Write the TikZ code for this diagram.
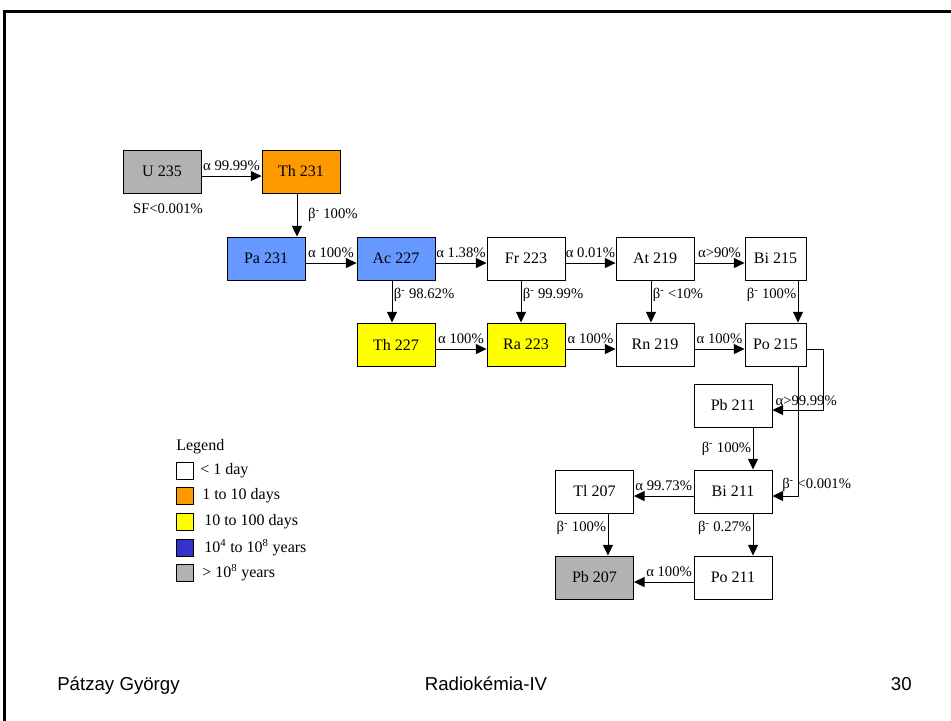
\documentclass[tikz,border=0pt]{standalone}
\usepackage{fontspec}
\setmainfont{Liberation Serif}
\newfontfamily\footfont{Liberation Sans}
\usepackage{tikz}
\usetikzlibrary{arrows.meta}
\definecolor{hlGray}{HTML}{B2B2B2}
\definecolor{hlOrange}{HTML}{FF9900}
\definecolor{hlYellow}{HTML}{FFFF00}
\definecolor{hlBlue}{HTML}{6699FF}
\definecolor{hlDeep}{HTML}{3333CC}
\newcommand{\bmin}{β\textsuperscript{-}}

\begin{document}
\begin{tikzpicture}[x=0.75pt, y=-0.75pt,
    nuc/.style={draw, line width=0.7pt, minimum width=58.5pt, minimum height=32.25pt,
      inner sep=0pt, font=\fontsize{12}{14}\selectfont},
    nucs/.style={nuc, minimum width=45.75pt},
    decay/.style={line width=0.7pt, -{Triangle[length=8pt,width=7.5pt]}},
    lab/.style={font=\fontsize{11}{13}\selectfont, inner sep=1pt},
    key/.style={draw, line width=0.7pt, minimum size=12.75pt, inner sep=0pt},
    keytxt/.style={anchor=west, inner sep=0pt, font=\fontsize{12}{14}\selectfont},
    foot/.style={font=\footfont\fontsize{14}{16}\selectfont, inner sep=0pt}]
    \useasboundingbox (0,0) rectangle (951,721);
    % slide frame
    \draw[line width=2.25pt] (951,11) -- (4,11) -- (4,721);
    % nuclides
    \node[nuc, fill=hlGray]   (U235)  at (162,171.5) {U 235};
    \node[nuc, fill=hlOrange] (Th231) at (301,171.5) {Th 231};
    \node[nuc, fill=hlBlue]   (Pa231) at (266,258.5) {Pa 231};
    \node[nuc, fill=hlBlue]   (Ac227) at (396,258.5) {Ac 227};
    \node[nuc]                (Fr223) at (526,258.5) {Fr 223};
    \node[nuc]                (At219) at (655,258.5) {At 219};
    \node[nucs]               (Bi215) at (775.5,258.5) {Bi 215};
    \node[nuc, fill=hlYellow] (Th227) at (396,344.5) {Th 227};
    \node[nuc, fill=hlYellow] (Ra223) at (526,344.5) {Ra 223};
    \node[nuc]                (Rn219) at (655,344.5) {Rn 219};
    \node[nucs]               (Po215) at (775.5,344.5) {Po 215};
    \node[nuc]                (Pb211) at (733,405.5) {Pb 211};
    \node[nuc]                (Bi211) at (733,491.5) {Bi 211};
    \node[nuc]                (Tl207) at (594.5,491.5) {Tl 207};
    \node[nuc, fill=hlGray]   (Pb207) at (594.5,577.5) {Pb 207};
    \node[nuc]                (Po211) at (733,577.5) {Po 211};
    \node[lab] (sf) at (168,209) {SF<0.001\%};
    % alpha decays
    \draw[decay] ([yshift=-3.4pt]U235.east) -- node[lab, above=3pt] {α 99.99\%} ([yshift=-3.4pt]Th231.west);
    \draw[decay] ([yshift=-3.4pt]Pa231.east) -- node[lab, above=3pt] {α 100\%} ([yshift=-3.4pt]Ac227.west);
    \draw[decay] ([yshift=-3.4pt]Ac227.east) -- node[lab, above=3pt] {α 1.38\%} ([yshift=-3.4pt]Fr223.west);
    \draw[decay] ([yshift=-3.4pt]Fr223.east) -- node[lab, above=3pt] {α 0.01\%} ([yshift=-3.4pt]At219.west);
    \draw[decay] ([yshift=-3.4pt]At219.east) -- node[lab, above=3pt] {α>90\%} ([yshift=-3.4pt]Bi215.west);
    \draw[decay] ([yshift=-3.4pt]Th227.east) -- node[lab, above=3pt] {α 100\%} ([yshift=-3.4pt]Ra223.west);
    \draw[decay] ([yshift=-3.4pt]Ra223.east) -- node[lab, above=3pt] {α 100\%} ([yshift=-3.4pt]Rn219.west);
    \draw[decay] ([yshift=-3.4pt]Rn219.east) -- node[lab, above=3pt] {α 100\%} ([yshift=-3.4pt]Po215.west);
    \draw[decay] ([yshift=-3.4pt]Bi211.west) -- node[lab, above=3pt] {α 99.73\%} ([yshift=-3.4pt]Tl207.east);
    \draw[decay] ([yshift=-3.4pt]Po211.west) -- node[lab, above=3pt, xshift=4pt] {α 100\%} ([yshift=-3.4pt]Pb207.east);
    \draw[decay] ([yshift=-3.4pt]Po215.east) -- ++(12.75pt,0) |- ([yshift=-3.4pt]Pb211.east)
        node[lab, anchor=south west, xshift=1pt, yshift=2pt] {α>99.99\%};
    % beta decays
    \draw[decay] ([xshift=-3pt]Th231.south) -- node[lab, right=7pt] {\bmin{} 100\%} ([xshift=-3pt]Th231.south |- Pa231.north);
    \draw[decay] ([xshift=-3pt]Ac227.south) -- node[lab, right, pos=0.35] {\bmin{} 98.62\%} ([xshift=-3pt]Ac227.south |- Th227.north);
    \draw[decay] ([xshift=-3.75pt]Fr223.south) -- node[lab, right, pos=0.35] {\bmin{} 99.99\%} ([xshift=-3.75pt]Fr223.south |- Ra223.north);
    \draw[decay] ([xshift=-3pt]At219.south) -- node[lab, right, pos=0.35] {\bmin{} <10\%} ([xshift=-3pt]At219.south |- Rn219.north);
    \draw[decay] ([xshift=16.9pt]Bi215.south) -- node[lab, left, pos=0.35] {\bmin{} 100\%} ([xshift=16.9pt]Bi215.south |- Po215.north);
    \draw[decay] ([xshift=15pt]Pb211.south) -- node[lab, left] {\bmin{} 100\%} ([xshift=15pt]Pb211.south |- Bi211.north);
    \draw[decay] ([xshift=15pt]Bi211.south) -- node[lab, left, pos=0.35] {\bmin{} 0.27\%} ([xshift=15pt]Bi211.south |- Po211.north);
    \draw[decay] ([xshift=10.1pt]Tl207.south) -- node[lab, left, pos=0.35] {\bmin{} 100\%} ([xshift=10.1pt]Tl207.south |- Pb207.north);
    \draw[decay] ([xshift=16.9pt]Po215.south) |- ([yshift=-3.4pt]Bi211.east)
        node[lab, anchor=south west, xshift=6pt, yshift=2pt] {\bmin{} <0.001\%};
    % legend
    \node[keytxt] (lgTitle) at (176,447) {Legend};
    \node[key]               (lgA) at (184.5,471) {};
    \node[key, fill=hlOrange] (lgB) at (184.5,496) {};
    \node[key, fill=hlYellow] (lgC) at (184.5,522) {};
    \node[key, fill=hlDeep]   (lgD) at (184.5,548) {};
    \node[key, fill=hlGray]   (lgE) at (184.5,573) {};
    \node[keytxt] at (200,471) {< 1 day};
    \node[keytxt] at (202,496) {1 to 10 days};
    \node[keytxt] at (204,522) {10 to 100 days};
    \node[keytxt] at (204,548) {10\textsuperscript{4} to 10\textsuperscript{8} years};
    \node[keytxt] at (202,573) {> 10\textsuperscript{8} years};
    % footer
    \node[foot, anchor=base west] (author) at (57,690) {Pátzay György};
    \node[foot, anchor=base] (course) at (486,690) {Radiokémia-IV};
    \node[foot, anchor=base east] (page) at (912,690) {30};
\end{tikzpicture}
\end{document}
